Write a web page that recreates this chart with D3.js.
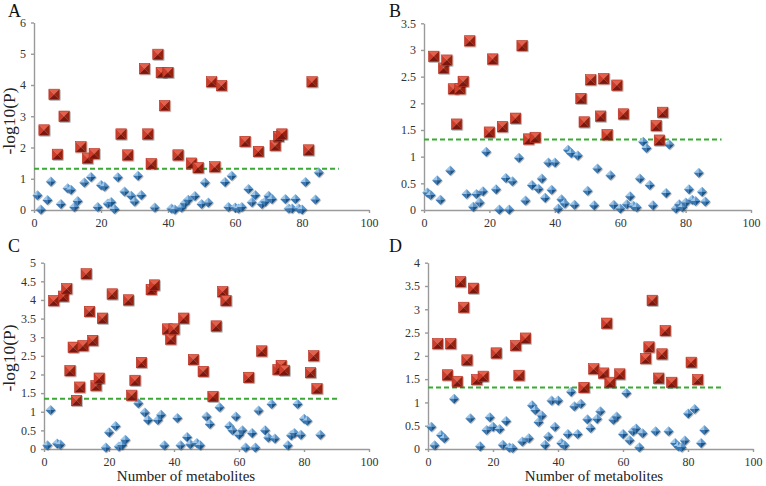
<!DOCTYPE html>
<html><head><meta charset="utf-8">
<script src="https://cdn.jsdelivr.net/npm/d3@7"></script>
<style>body{margin:0;background:#fff}svg{display:block}</style>
</head><body>
<svg id="c" width="766" height="486"></svg>
<script>
const xTicks=[0,20,40,60,80,100];
const aYTicks=[0,1,2,3,4,5,6];
const bYTicks=[0,0.5,1,1.5,2,2.5,3,3.5];
const cYTicks=[0,0.5,1,1.5,2,2.5,3,3.5,4,4.5,5];
const dYTicks=[0,0.5,1,1.5,2,2.5,3,3.5,4];
const thresholds=[1.32,1.32,1.35,1.32];
const panelLabels=["A","B","C","D"];
const yTitle="-log10(P)";
const xTitle="Number of metabolites";

// Panel A
const aRedX=[3,6,7,9,14,16,18,26,28,33,34,35,37,38,39,40,43,47,49,53,54,56,63,67,72,73,74,82,83];
const aRedY=[2.56,3.7,1.78,3.0,2.02,1.66,1.8,2.43,1.76,4.52,2.43,1.48,4.98,4.4,3.34,4.4,1.76,1.5,1.35,4.1,1.38,3.98,2.19,1.87,2.06,2.35,2.43,1.92,4.1];
const aBlueX=[1,2,4,5,8,10,11,12,13,15,17,19,20,21,22,23,24,25,27,29,30,31,32,36,41,42,44,45,46,48,50,51,52,57,58,59,60,61,62,64,65,66,68,69,70,71,75,76,77,78,79,80,81,84,85];
const aBlueY=[0.47,0.02,0.32,0.91,0.19,0.7,0.65,0.1,0.29,0.88,1.06,0.1,0.8,0.75,0.21,0.26,0.03,1.05,0.59,0.46,0.27,1.1,0.48,0.08,0.05,0.02,0.08,0.22,0.33,0.45,0.19,0.88,0.24,0.9,0.1,1.1,0.08,0.05,0.1,0.67,0.25,0.48,0.19,0.27,0.46,0.35,0.35,0.05,0.05,0.35,0.05,0.02,0.9,0.34,1.2];

// Panel B
const bRedX=[3,6,7,9,10,11,12,14,20,21,24,28,30,32,34,48,49,51,54,55,56,59,61,71,72,73];
const bRedY=[2.88,2.66,2.81,2.27,1.61,2.27,2.41,3.17,1.46,2.83,1.56,1.72,3.08,1.33,1.36,2.09,1.65,2.44,1.76,2.46,1.41,2.34,1.8,1.58,1.31,1.83];
const bBlueX=[1,2,4,5,8,13,15,16,17,18,19,22,23,25,26,27,29,31,33,35,36,37,38,39,40,41,42,43,44,45,46,47,50,52,53,57,58,60,62,63,64,65,66,67,68,69,70,74,75,77,78,79,80,81,82,83,84,85,86];
const bBlueY=[0.33,0.28,0.56,0.19,0.74,0.3,0.06,0.3,0.14,0.35,1.09,0.39,0.01,0.6,0.01,0.54,0.98,0.18,0.47,0.4,0.59,0.23,0.89,0.38,0.89,0.03,0.2,0.12,1.13,1.07,0.1,1.02,0.36,0.09,0.78,0.65,0.1,0.03,0.11,0.26,0.08,0.05,0.59,1.28,1.16,0.47,0.09,0.32,1.23,0.03,0.11,0.05,0.14,0.39,0.19,0.17,0.7,0.34,0.16];

// Panel C
const cRedX=[3,6,7,8,9,10,11,12,13,14,15,16,17,18,21,26,27,28,30,33,34,38,39,40,43,46,49,52,53,55,56,63,67,72,73,74,82,83,84];
const cRedY=[3.98,4.1,4.3,2.1,2.73,1.3,1.66,2.77,4.7,3.69,2.91,1.7,1.9,3.51,4.16,4.0,1.44,1.84,2.32,4.28,4.4,3.22,2.95,3.22,3.51,2.4,2.08,1.41,3.3,4.22,3.98,1.92,2.63,2.13,2.24,2.11,2.05,2.5,1.62];
const cBlueX=[1,2,4,5,19,20,22,23,24,25,29,31,32,35,36,37,41,42,44,45,47,48,50,51,54,57,58,59,60,61,62,64,65,66,68,69,70,71,75,76,77,78,79,80,81,85];
const cBlueY=[0.1,1.05,0.15,0.12,0.04,0.45,0.62,0.07,0.11,0.25,1.23,0.98,0.78,0.78,0.92,0.1,0.83,0.1,0.32,0.13,0.16,0.1,0.87,0.67,1.12,0.62,0.5,0.87,0.38,0.5,0.04,0.43,0.04,1.03,0.5,0.31,1.21,0.28,0.1,0.37,0.43,1.21,0.38,0.81,0.76,0.38];

// Panel D
const dRedX=[3,6,7,9,10,11,12,14,15,17,21,27,28,30,48,51,54,55,56,59,67,68,69,71,72,73,75,81,83];
const dRedY=[2.26,1.59,2.26,1.45,3.59,3.04,1.91,3.45,1.49,1.56,2.06,2.22,1.58,2.38,1.32,1.72,1.63,2.7,1.43,1.61,1.94,2.19,3.19,1.52,2.04,2.54,1.43,1.86,1.49];
const dBlueX=[1,2,4,5,8,13,16,18,19,20,22,23,24,25,26,29,31,32,33,34,35,36,37,38,39,40,41,42,43,44,45,46,47,49,50,52,53,57,58,60,61,62,63,64,65,66,70,74,76,77,78,79,80,82,84,85];
const dBlueY=[0.48,0.08,0.3,0.23,1.08,0.66,0.06,0.41,0.68,0.48,0.43,0.09,0.6,0.03,0.02,0.16,0.23,0.94,0.84,0.58,0.72,0.09,0.27,1.04,0.48,1.04,0.13,0.08,0.32,1.23,0.92,0.32,0.97,0.64,0.45,0.65,0.81,0.63,0.7,0.32,1.2,0.19,0.38,0.44,0.04,0.34,0.38,0.38,0.13,0.06,0.04,0.18,0.76,0.86,0.13,0.41];

const panels=[
 {left:34,right:369,top:22.5,bottom:210,ymax:6,yTicks:aYTicks,redX:aRedX,redY:aRedY,blueX:aBlueX,blueY:aBlueY,lx:8,ly:17,yt:true,xt:false,ytc:121},
 {left:424,right:751,top:23.3,bottom:210,ymax:3.5,yTicks:bYTicks,redX:bRedX,redY:bRedY,blueX:bBlueX,blueY:bBlueY,lx:389,ly:17,yt:false,xt:false},
 {left:44,right:369,top:262.7,bottom:449,ymax:5,yTicks:cYTicks,redX:cRedX,redY:cRedY,blueX:cBlueX,blueY:cBlueY,lx:8,ly:252,yt:true,xt:true,ytc:358,xtc:186},
 {left:428,right:753,top:262.7,bottom:449,ymax:4,yTicks:dYTicks,redX:dRedX,redY:dRedY,blueX:dBlueX,blueY:dBlueY,lx:389,ly:252,yt:false,xt:true,xtc:594}
];

const FONT="'Liberation Serif','Times New Roman',Times,serif";
const svg=d3.select("#c");
const defs=svg.append("defs");
defs.append("filter").attr("id","sh").attr("x","-60%").attr("y","-60%").attr("width","220%").attr("height","220%")
 .append("feDropShadow").attr("dx",0.8).attr("dy",0.9).attr("stdDeviation",0.7)
 .attr("flood-color","#000").attr("flood-opacity",0.35);

function square(g,cx,cy){
 const h=5.2;
 const c=[cx,cy], tl=[cx-h,cy-h], tr=[cx+h,cy-h], br=[cx+h,cy+h], bl=[cx-h,cy+h];
 const m=g.append("g").attr("filter","url(#sh)");
 const tri=(a,b,col)=>m.append("path").attr("d",`M${a}L${b}L${c}Z`).attr("fill",col);
 tri(tl,tr,"#e5604c");
 tri(tl,bl,"#cf3e2c");
 tri(tr,br,"#96200f");
 tri(bl,br,"#7a180c");
 m.append("rect").attr("x",cx-h).attr("y",cy-h).attr("width",2*h).attr("height",2*h)
  .attr("fill","none").attr("stroke","#b3301f").attr("stroke-width",0.6);
}
function diamond(g,cx,cy){
 const h=5.0;
 const c=[cx,cy], t=[cx,cy-h], r=[cx+h,cy], b=[cx,cy+h], l=[cx-h,cy];
 const m=g.append("g").attr("filter","url(#sh)");
 const tri=(a,bb,col)=>m.append("path").attr("d",`M${a}L${bb}L${c}Z`).attr("fill",col);
 tri(l,t,"#9cc6ea");
 tri(t,r,"#5a95cc");
 tri(r,b,"#1d5689");
 tri(b,l,"#3a78b3");
}

panels.forEach((p,i)=>{
 const x=d3.scaleLinear().domain([0,100]).range([p.left,p.right]);
 const y=d3.scaleLinear().domain([0,p.ymax]).range([p.bottom,p.top]);
 const g=svg.append("g");
 const xa=g.append("g").attr("transform",`translate(0,${p.bottom})`)
  .call(d3.axisBottom(x).tickValues(xTicks).tickSize(3).tickSizeOuter(0).tickPadding(5).tickFormat(d=>String(d)));
 const ya=g.append("g").attr("transform",`translate(${p.left},0)`)
  .call(d3.axisLeft(y).tickValues(p.yTicks).tickSize(3).tickSizeOuter(0).tickPadding(5).tickFormat(d=>String(d)));
 [xa,ya].forEach(a=>{
  a.attr("font-family",FONT).attr("font-size",12);
  a.selectAll("path,line").attr("stroke","#9a9a9a").attr("stroke-width",1.4);
  a.selectAll("text").attr("fill","#333").style("font-family",FONT).style("font-size","12px");
 });
 g.append("line").attr("x1",x(0)).attr("x2",x(91)).attr("y1",y(thresholds[i])).attr("y2",y(thresholds[i]))
  .attr("stroke","#3aa935").attr("stroke-width",2).attr("stroke-dasharray","5,3");
 const pts=g.append("g");
 p.blueX.forEach((v,k)=>diamond(pts,x(v),y(p.blueY[k])));
 p.redX.forEach((v,k)=>square(pts,x(v),y(p.redY[k])));
 svg.append("text").attr("x",p.lx).attr("y",p.ly).text(panelLabels[i])
  .style("font-family",FONT).style("font-size","18px").attr("fill","#111");
 if(p.yt){
  svg.append("text").attr("transform",`translate(15,${p.ytc}) rotate(-90)`).attr("text-anchor","middle")
   .text(yTitle).style("font-family",FONT).style("font-size","17.5px").attr("fill","#222");
 }
 if(p.xt){
  svg.append("text").attr("x",p.xtc).attr("y",481).attr("text-anchor","middle")
   .text(xTitle).style("font-family",FONT).style("font-size","15px").attr("fill","#222");
 }
});
</script>
</body></html>
